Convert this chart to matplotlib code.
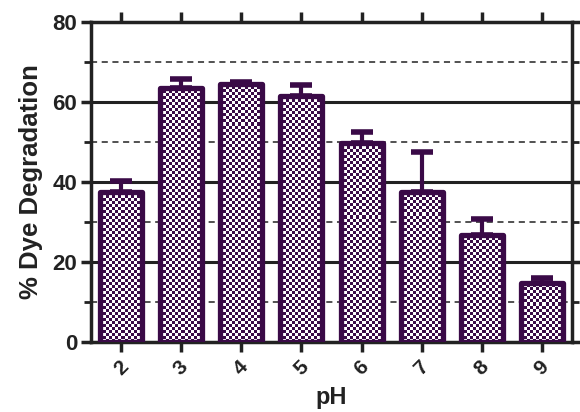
import numpy as np
import matplotlib
matplotlib.use("Agg")
import matplotlib.pyplot as plt
from matplotlib.ticker import MultipleLocator
from matplotlib.colors import ListedColormap

plt.rcParams['font.family'] = ['Liberation Sans', 'DejaVu Sans']
plt.rcParams['font.weight'] = 'bold'

ph = [2, 3, 4, 5, 6, 7, 8, 9]
degradation = [37.5, 63.5, 64.6, 61.5, 49.8, 37.6, 26.7, 14.8]
err_up = [2.7, 2.2, 0.4, 2.7, 2.7, 10.0, 4.0, 1.2]

purple = '#3a0a47'
dark = '#222222'

fig = plt.figure(figsize=(5.8, 4.12), dpi=100)
ax = fig.add_axes([91 / 580, 70 / 412, 481 / 580, 320 / 412])

# grid
for y in [20, 40, 60]:
    ax.axhline(y, color=dark, lw=2.2, zorder=1)
for y in [10, 30, 50, 70]:
    ax.axhline(y, color=dark, lw=1.1, ls=(0, (4, 3)), zorder=1)

bars = ax.bar(ph, degradation, width=0.7, facecolor='none', edgecolor=purple,
              linewidth=3.8, joinstyle='round', zorder=3)

# checkerboard fill clipped to each bar (3 px cells)
cells = np.indices((107, 160)).sum(axis=0) % 2
for b in bars:
    im = ax.imshow(cells, extent=(1.5, 9.5, 0, 80 * 321 / 320), origin='lower',
                   cmap=ListedColormap(['white', purple]),
                   interpolation='nearest', aspect='auto', zorder=2.5)
    im.set_clip_path(b)
ax.set_xlim(1.5, 9.5)
ax.set_ylim(0, 80)

ax.errorbar(ph, degradation, yerr=[np.zeros(len(err_up)), err_up], fmt='none',
            ecolor=purple, elinewidth=3, capsize=8, capthick=4, zorder=2.8)

for s in ax.spines.values():
    s.set_color(dark)
    s.set_linewidth(2.5)

ax.set_xticks(ph)
ax.set_xticklabels([str(p) for p in ph], rotation=45, fontsize=15, fontweight='bold', color=dark)
ax.yaxis.set_major_locator(MultipleLocator(20))
ax.yaxis.set_minor_locator(MultipleLocator(10))
ax.tick_params(axis='x', which='major', direction='out', length=7, width=2.5, color=dark,
               top=True, bottom=True, pad=4)
ax.tick_params(axis='y', which='major', direction='out', length=7, width=2.5, color=dark,
               left=True, right=True, labelsize=16, labelcolor=dark, pad=3)
ax.tick_params(axis='y', which='minor', direction='out', length=5, width=2, color=dark,
               left=True, right=True)
for t in ax.get_yticklabels():
    t.set_fontweight('bold')

ax.set_xlabel('pH', fontsize=17, fontweight='bold', labelpad=5, color=dark)
ax.set_ylabel('% Dye Degradation', fontsize=18.5, fontweight='bold', labelpad=7, color=dark)

fig.savefig('out.png', dpi=100)
